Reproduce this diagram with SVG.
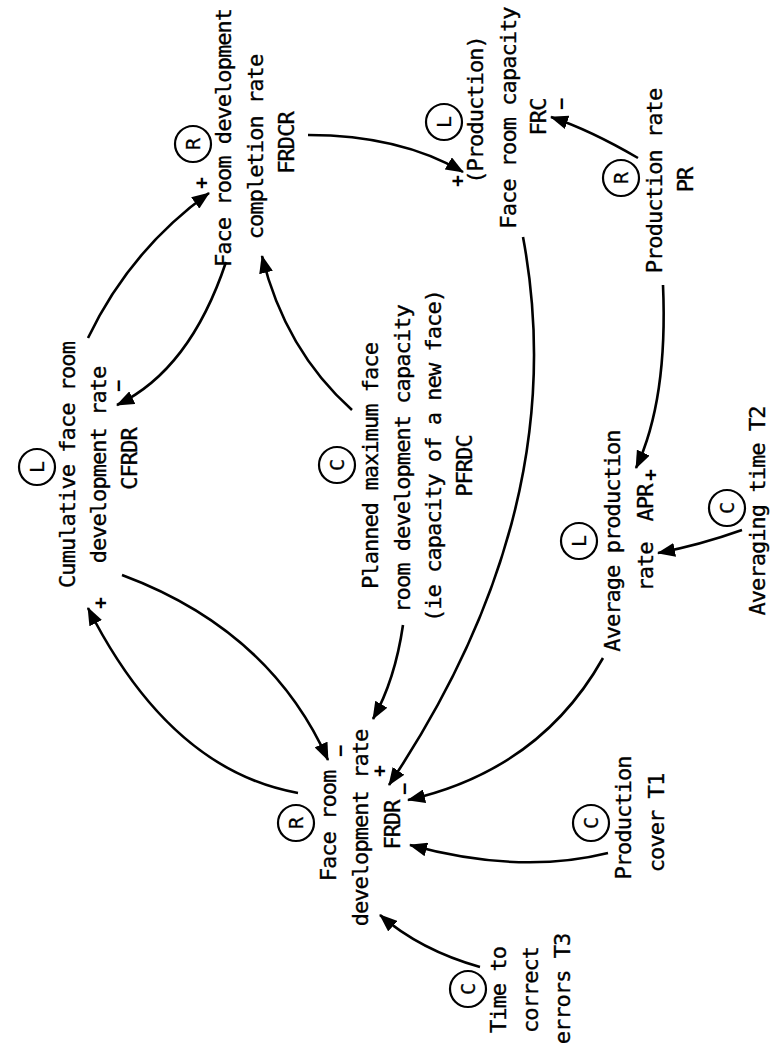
<svg xmlns="http://www.w3.org/2000/svg" width="773" height="1050" viewBox="0 0 773 1050">
<defs>
<style>
.t{font-family:"DejaVu Sans Mono","Liberation Mono",monospace;font-size:22px;letter-spacing:-0.95px;fill:#000;stroke:#000;stroke-width:0.35;text-anchor:middle}
.c{font-family:"DejaVu Sans Mono","Liberation Mono",monospace;font-size:20px;fill:#000;stroke:#000;stroke-width:0.3;text-anchor:middle;dominant-baseline:central}
.s{font-family:"DejaVu Sans Mono","Liberation Mono",monospace;font-size:20px;font-weight:bold;fill:#000;text-anchor:middle;dominant-baseline:central}
.ring{fill:none;stroke:#000;stroke-width:2.2}
.ln{fill:none;stroke:#000;stroke-width:2.6;marker-end:url(#ah)}
</style>
<marker id="ah" viewBox="0 0 18 14" refX="17" refY="7" markerWidth="18" markerHeight="14" markerUnits="userSpaceOnUse" orient="auto">
<path d="M0,0 L18,7 L0,14 z" fill="#000"/>
</marker>
</defs>
<rect width="773" height="1050" fill="#fff"/>

<g id="connectors">
<path class="ln" d="M88 338 Q130 250 209 193"/>
<path class="ln" d="M226 262 Q190 370 117 405"/>
<path class="ln" d="M352 410 Q285 350 262 256"/>
<path class="ln" d="M308 135 Q400 135 463 172"/>
<path class="ln" d="M638 158 Q590 130 551 117"/>
<path class="ln" d="M663 285 Q668 400 636 468"/>
<path class="ln" d="M742 530 Q700 545 658 553"/>
<path class="ln" d="M523 237 Q574 509 389 785"/>
<path class="ln" d="M403 625 Q395 680 373 719"/>
<path class="ln" d="M122 575 Q270 630 328 760"/>
<path class="ln" d="M298 793 Q170 770 88 608"/>
<path class="ln" d="M603 658 Q540 770 408 800"/>
<path class="ln" d="M608 853 Q520 875 410 845"/>
<path class="ln" d="M480 967 Q420 950 380 915"/>
<text class="s" transform="translate(201,183) rotate(-90)">+</text>
<text class="s" transform="translate(118,386) rotate(-90)">−</text>
<text class="s" transform="translate(457,181) rotate(-90)">+</text>
<text class="s" transform="translate(561,104) rotate(-90)">−</text>
<text class="s" transform="translate(650,475) rotate(-90)">+</text>
<text class="s" transform="translate(379,771) rotate(-90)">+</text>
<text class="s" transform="translate(340,751) rotate(-90)">−</text>
<text class="s" transform="translate(100,603) rotate(-90)">+</text>
<text class="s" transform="translate(404,789) rotate(-90)">−</text>
</g>

<g id="FRDCR">
<circle class="ring" cx="193" cy="144" r="18"/>
<text class="c" transform="translate(193,144) rotate(-90)">R</text>
<text class="t" transform="translate(231,138) rotate(-90)">Face room development</text>
<text class="t" transform="translate(263,147) rotate(-90)">completion rate</text>
<text class="t" transform="translate(294,143) rotate(-90)">FRDCR</text>
</g>

<g id="CFRDR">
<circle class="ring" cx="37" cy="467" r="18"/>
<text class="c" transform="translate(37,467) rotate(-90)">L</text>
<text class="t" transform="translate(75,465) rotate(-90)">Cumulative face room</text>
<text class="t" transform="translate(106,465) rotate(-90)">development rate</text>
<text class="t" transform="translate(137,459) rotate(-90)">CFRDR</text>
</g>

<g id="PFRDC">
<circle class="ring" cx="337" cy="465" r="18"/>
<text class="c" transform="translate(337,465) rotate(-90)">C</text>
<text class="t" transform="translate(378,466) rotate(-90)">Planned maximum face</text>
<text class="t" transform="translate(410,459) rotate(-90)">room development capacity</text>
<text class="t" transform="translate(441,456) rotate(-90)">(ie capacity of a new face)</text>
<text class="t" transform="translate(472,466) rotate(-90)">PFRDC</text>
</g>

<g id="FRC">
<circle class="ring" cx="444" cy="122" r="18"/>
<text class="c" transform="translate(444,122) rotate(-90)">L</text>
<text class="t" transform="translate(483,110) rotate(-90)">(Production)</text>
<text class="t" transform="translate(516,118) rotate(-90)">Face room capacity</text>
<text class="t" transform="translate(546,117) rotate(-90)">FRC</text>
</g>

<g id="PR">
<circle class="ring" cx="621" cy="178" r="18"/>
<text class="c" transform="translate(621,178) rotate(-90)">R</text>
<text class="t" transform="translate(662,181) rotate(-90)">Production rate</text>
<text class="t" transform="translate(693,180) rotate(-90)">PR</text>
</g>

<g id="APR">
<circle class="ring" cx="579" cy="541" r="18"/>
<text class="c" transform="translate(579,541) rotate(-90)">L</text>
<text class="t" transform="translate(620,541) rotate(-90)">Average production</text>
<text class="t" transform="translate(653,567) rotate(-90)">rate</text>
<text class="t" transform="translate(653,503) rotate(-90)">APR</text>
</g>

<g id="T2">
<circle class="ring" cx="727" cy="508" r="18"/>
<text class="c" transform="translate(727,508) rotate(-90)">C</text>
<text class="t" transform="translate(765,511) rotate(-90)">Averaging time T2</text>
</g>

<g id="FRDR">
<circle class="ring" cx="296" cy="823" r="18"/>
<text class="c" transform="translate(296,823) rotate(-90)">R</text>
<text class="t" transform="translate(336,826) rotate(-90)">Face room</text>
<text class="t" transform="translate(368,828) rotate(-90)">development rate</text>
<text class="t" transform="translate(400,825) rotate(-90)">FRDR</text>
</g>

<g id="T1">
<circle class="ring" cx="591" cy="823" r="18"/>
<text class="c" transform="translate(591,823) rotate(-90)">C</text>
<text class="t" transform="translate(631,818) rotate(-90)">Production</text>
<text class="t" transform="translate(664,823) rotate(-90)">cover T1</text>
</g>

<g id="T3">
<circle class="ring" cx="468" cy="989" r="18"/>
<text class="c" transform="translate(468,989) rotate(-90)">C</text>
<text class="t" transform="translate(506,990) rotate(-90)">Time to</text>
<text class="t" transform="translate(538,990) rotate(-90)">correct</text>
<text class="t" transform="translate(570,989) rotate(-90)">errors T3</text>
</g>
</svg>
